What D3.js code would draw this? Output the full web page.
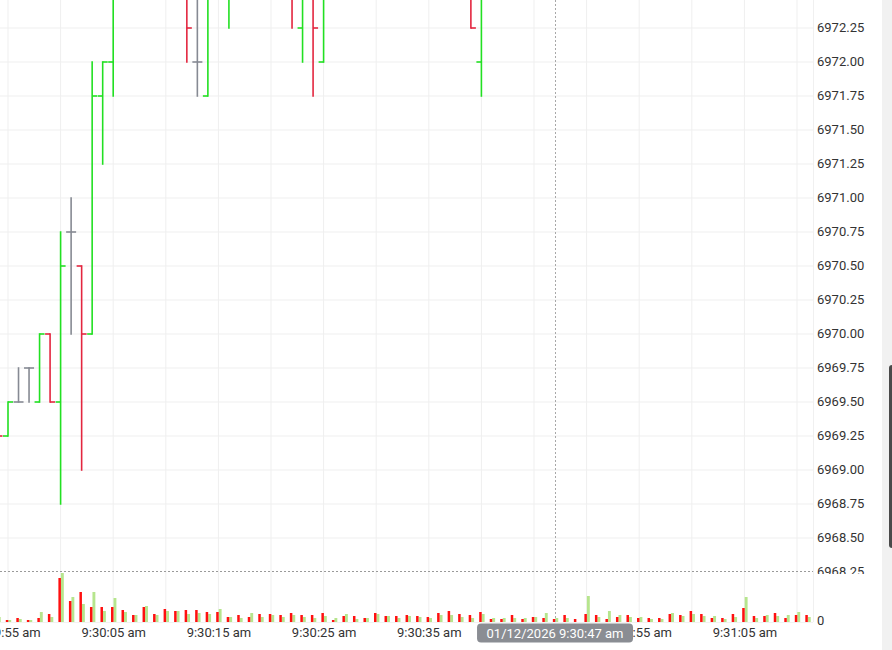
<!DOCTYPE html>
<html>
<head>
<meta charset="utf-8">
<script src="https://cdn.jsdelivr.net/npm/d3@7"></script>
<style>
  html, body { margin: 0; padding: 0; background: #fff; }
  svg { display: block; font-family: Roboto, "Noto Sans", Arial, sans-serif; }
</style>
</head>
<body>
<svg id="chart" width="892" height="650"></svg>
<script>
// ---- DATA (1-second OHLC bars, first bar 9:29:54 am, 01/12/2026) ----
const firstBar = new Date(2026, 0, 12, 9, 29, 54);
const opens = [
  6969.50, 6969.25, 6969.50, 6969.75, 6969.50, 6970.00, 6969.50, 6970.75, 6970.50, 6970.00,
  6971.75, 6972.00, 6972.50, 6973.00, 6973.25, 6972.75, 6972.75, 6972.50, 6972.75, 6972.00,
  6971.75, 6972.50, 6972.50, 6972.75, 6972.75, 6972.50, 6972.75, 6972.50, 6972.75, 6972.25,
  6972.75, 6972.00, 6972.50, 6972.75, 6973.00, 6973.00, 6973.25, 6973.00, 6973.00, 6973.25,
  6973.00, 6973.00, 6972.75, 6972.75, 6972.50, 6972.75, 6972.00, 6972.50, 6972.75, 6973.00,
  6973.00, 6973.25, 6973.25, 6973.50, 6973.25, 6973.25, 6973.00, 6973.50, 6973.50, 6973.75,
  6973.75, 6973.50, 6973.75, 6973.75, 6973.50, 6973.75, 6973.50, 6973.25, 6973.25, 6973.50,
  6973.25, 6973.25, 6973.75, 6973.75, 6974.00, 6973.75, 6974.00, 6974.25
];
const highs = [
  6969.50, 6969.50, 6969.75, 6969.75, 6970.00, 6970.00, 6970.75, 6971.00, 6970.50, 6972.00,
  6972.00, 6972.75, 6973.25, 6973.50, 6973.50, 6973.00, 6973.00, 6972.75, 6972.75, 6972.50,
  6972.75, 6973.00, 6972.75, 6973.00, 6973.00, 6972.75, 6973.00, 6972.75, 6972.75, 6972.75,
  6972.75, 6972.75, 6973.00, 6973.25, 6973.25, 6973.25, 6973.50, 6973.25, 6973.25, 6973.50,
  6973.25, 6973.25, 6973.00, 6972.75, 6972.75, 6972.75, 6972.75, 6973.00, 6973.00, 6973.25,
  6973.25, 6973.50, 6973.75, 6973.50, 6973.50, 6973.25, 6973.75, 6973.75, 6974.00, 6974.00,
  6973.75, 6973.75, 6973.75, 6973.75, 6973.75, 6973.75, 6973.50, 6973.50, 6973.50, 6973.50,
  6973.50, 6974.00, 6974.00, 6974.00, 6974.00, 6974.00, 6974.25, 6974.25
];
const lows = [
  6969.25, 6969.25, 6969.50, 6969.50, 6969.50, 6969.50, 6968.75, 6970.00, 6969.00, 6970.00,
  6971.25, 6971.75, 6972.50, 6972.75, 6972.75, 6972.50, 6972.50, 6972.50, 6972.00, 6971.75,
  6971.75, 6972.50, 6972.25, 6972.50, 6972.50, 6972.50, 6972.50, 6972.50, 6972.25, 6972.00,
  6971.75, 6972.00, 6972.50, 6972.75, 6972.75, 6973.00, 6973.00, 6972.75, 6973.00, 6973.00,
  6972.75, 6972.75, 6972.50, 6972.50, 6972.50, 6972.25, 6971.75, 6972.50, 6972.75, 6972.75,
  6973.00, 6973.00, 6973.25, 6973.25, 6973.00, 6973.00, 6973.00, 6973.25, 6973.50, 6973.50,
  6973.50, 6973.50, 6973.50, 6973.50, 6973.25, 6973.50, 6973.00, 6973.00, 6973.25, 6973.25,
  6973.00, 6973.00, 6973.50, 6973.75, 6973.50, 6973.75, 6973.75, 6973.75
];
const closes = [
  6969.25, 6969.50, 6969.50, 6969.75, 6970.00, 6969.50, 6970.50, 6970.75, 6970.00, 6971.75,
  6972.00, 6972.50, 6973.00, 6973.25, 6972.75, 6972.75, 6972.50, 6972.75, 6972.25, 6972.00,
  6972.50, 6972.75, 6972.75, 6972.75, 6972.50, 6972.75, 6972.50, 6972.75, 6972.50, 6972.50,
  6972.25, 6972.50, 6972.75, 6973.00, 6973.00, 6973.25, 6973.00, 6973.00, 6973.25, 6973.00,
  6973.00, 6972.75, 6972.75, 6972.50, 6972.75, 6972.25, 6972.50, 6972.75, 6973.00, 6973.00,
  6973.25, 6973.25, 6973.50, 6973.25, 6973.25, 6973.00, 6973.50, 6973.50, 6973.75, 6973.75,
  6973.50, 6973.75, 6973.75, 6973.50, 6973.75, 6973.50, 6973.25, 6973.25, 6973.50, 6973.25,
  6973.25, 6973.75, 6973.75, 6974.00, 6973.75, 6974.00, 6974.25, 6974.00
];
const sellVolume = [
  3, 2, 4, 2, 4, 8, 44, 21, 30, 15,
  15, 15, 12, 7, 15, 8, 13, 11, 12, 12,
  10, 10, 5, 7, 5, 8, 8, 7, 9, 7,
  7, 9, 2, 6, 6, 4, 9, 6, 6, 7,
  6, 5, 9, 11, 8, 7, 10, 3, 3, 7,
  3, 5, 4, 3, 7, 3, 8, 7, 3, 5,
  7, 4, 4, 4, 8, 7, 11, 8, 4, 4,
  8, 14, 6, 6, 9, 4, 7, 7
];
const buyVolume = [
  5, 2, 3, 2, 10, 5, 49, 25, 18, 30,
  11, 24, 10, 7, 16, 7, 11, 11, 8, 9,
  8, 13, 5, 4, 9, 5, 7, 5, 7, 5,
  4, 6, 4, 8, 3, 4, 8, 6, 4, 6,
  5, 4, 7, 7, 5, 4, 8, 4, 4, 4,
  4, 5, 9, 4, 4, 0, 26, 5, 11, 7,
  5, 5, 3, 3, 9, 6, 8, 6, 6, 3,
  5, 25, 4, 7, 6, 7, 10, 5
];
const priceTicks = [6968.25, 6968.50, 6968.75, 6969.00, 6969.25, 6969.50, 6969.75, 6970.00,
  6970.25, 6970.50, 6970.75, 6971.00, 6971.25, 6971.50, 6971.75, 6972.00, 6972.25];
const timeLabels = ["09:29:55", "09:30:05", "09:30:15", "09:30:25", "09:30:35", "09:30:45", "09:30:55", "09:31:05"];
const crosshairTime = "09:30:47";
const tooltipText = "01/12/2026 9:30:47 am";

// ---- BUILD ----
const parseT = s => { const [h, m, sec] = s.split(":").map(Number); return new Date(2026, 0, 12, h, m, sec); };
const bars = opens.map((o, i) => ({
  t: d3.timeSecond.offset(firstBar, i),
  o, h: highs[i], l: lows[i], c: closes[i],
  sv: sellVolume[i], bv: buyVolume[i]
}));

const plotRight = 813, pricePaneBottom = 574, volBase = 622;
const svg = d3.select("#chart");

const x = d3.scaleTime()
  .domain([parseT("09:29:55"), parseT("09:31:10")])
  .range([8, 797]);
const y = d3.scaleLinear().domain([6968.25, 6972.25]).range([572, 28]);
const yv = d3.scaleLinear().domain([0, 50]).range([volBase, volBase - 50]);

const defs = svg.append("defs");
defs.append("clipPath").attr("id", "priceClip").append("rect")
  .attr("x", 0).attr("y", 0).attr("width", plotRight).attr("height", pricePaneBottom);
defs.append("clipPath").attr("id", "axisClip").append("rect")
  .attr("x", plotRight).attr("y", 0).attr("width", 70).attr("height", pricePaneBottom);
defs.append("clipPath").attr("id", "plotClip").append("rect")
  .attr("x", 0).attr("y", 0).attr("width", plotRight).attr("height", 650);

// gridlines
const grid = svg.append("g").attr("clip-path", "url(#plotClip)");
grid.selectAll("line.v").data(x.ticks(d3.timeSecond.every(5))).join("line")
  .attr("x1", d => x(d)).attr("x2", d => x(d))
  .attr("y1", 0).attr("y2", volBase)
  .attr("stroke", "#efefef").attr("stroke-width", 1);
grid.selectAll("line.h").data(priceTicks.slice(1)).join("line")
  .attr("x1", 0).attr("x2", plotRight)
  .attr("y1", d => y(d)).attr("y2", d => y(d))
  .attr("stroke", "#efefef").attr("stroke-width", 1);
grid.append("line").attr("x1", 0).attr("x2", plotRight).attr("y1", volBase + 0.5).attr("y2", volBase + 0.5)
  .attr("stroke", "#f2f2f2");
// separator
svg.append("line").attr("x1", plotRight + 0.5).attr("x2", plotRight + 0.5).attr("y1", 0).attr("y2", volBase)
  .attr("stroke", "#f0f0f0");

// dotted pane line
svg.append("line").attr("x1", 0).attr("x2", plotRight)
  .attr("y1", y(6968.25) - 0.5).attr("y2", y(6968.25) - 0.5)
  .attr("stroke", "#9a9a9a").attr("stroke-width", 1).attr("stroke-dasharray", "2,2");

// volume bars
const vol = svg.append("g").attr("clip-path", "url(#plotClip)");
vol.selectAll("rect.buy").data(bars).join("rect")
  .attr("x", d => x(d.t) + 0.3).attr("width", 2.9)
  .attr("y", d => yv(d.bv)).attr("height", d => yv(0) - yv(d.bv))
  .attr("fill", "#b6e58d");
vol.selectAll("rect.sell").data(bars).join("rect")
  .attr("x", d => x(d.t) - 2.2).attr("width", 2.5)
  .attr("y", d => yv(d.sv)).attr("height", d => yv(0) - yv(d.sv))
  .attr("fill", "#ff1010");

// OHLC bars
const colorOf = d => d.c > d.o ? "#22e022" : (d.c < d.o ? "#e3263f" : "#868a93");
const ohlc = svg.append("g").attr("clip-path", "url(#priceClip)");
const g = ohlc.selectAll("g.bar").data(bars).join("g").attr("stroke", colorOf).attr("stroke-width", 1.6);
g.append("line").attr("x1", d => x(d.t)).attr("x2", d => x(d.t))
  .attr("y1", d => y(d.h) - 0.8).attr("y2", d => y(d.l) + 0.8);
g.append("line").attr("x1", d => x(d.t) - 5).attr("x2", d => x(d.t))
  .attr("y1", d => y(d.o)).attr("y2", d => y(d.o));
g.append("line").attr("x1", d => x(d.t)).attr("x2", d => x(d.t) + 5)
  .attr("y1", d => y(d.c)).attr("y2", d => y(d.c));

// crosshair
const cx = x(parseT(crosshairTime));
svg.append("line").attr("x1", Math.round(cx) + 0.5).attr("x2", Math.round(cx) + 0.5)
  .attr("y1", 0).attr("y2", volBase + 2)
  .attr("stroke", "#a8a8a8").attr("stroke-dasharray", "2,2");

// price axis
const yAxis = d3.axisRight(y).tickValues(priceTicks).tickFormat(d3.format(".2f")).tickSize(0).tickPadding(0);
const ya = svg.append("g").attr("clip-path", "url(#axisClip)")
  .append("g").attr("transform", `translate(817,-1)`).call(yAxis);
ya.select(".domain").remove();
ya.selectAll("text").attr("font-size", 13).attr("fill", "#333").attr("font-family", "Roboto, Arial, sans-serif");

// volume "0"
svg.append("text").attr("x", 817).attr("y", yv(0) - 2).attr("dy", "0.35em")
  .attr("font-size", 13).attr("fill", "#333").text("0");

// time axis
const fmt = d => d3.timeFormat("%-I:%M:%S %p")(d).toLowerCase();
const xAxis = d3.axisBottom(x).tickValues(timeLabels.map(parseT)).tickFormat(fmt).tickSize(0).tickPadding(0);
const xa = svg.append("g").attr("transform", `translate(0,${volBase})`).call(xAxis);
xa.select(".domain").remove();
xa.selectAll("text").attr("font-size", 13).attr("fill", "#333").attr("dy", null).attr("y", 15)
  .attr("font-family", "Roboto, Arial, sans-serif");

// tooltip
const tg = svg.append("g");
tg.append("rect").attr("x", cx - 78).attr("y", 623.5).attr("width", 156).attr("height", 19).attr("rx", 4)
  .attr("fill", "#8a8d93");
tg.append("text").attr("x", cx).attr("y", 637.5).attr("text-anchor", "middle")
  .attr("font-size", 13).attr("fill", "#fff").text(tooltipText);

// right strip + handle
svg.append("rect").attr("x", 882).attr("y", 0).attr("width", 10).attr("height", 650).attr("fill", "#f1f1f1");
svg.append("rect").attr("x", 889).attr("y", 365).attr("width", 8).attr("height", 183).attr("rx", 3).attr("fill", "#4a4a4a");
</script>
</body>
</html>
